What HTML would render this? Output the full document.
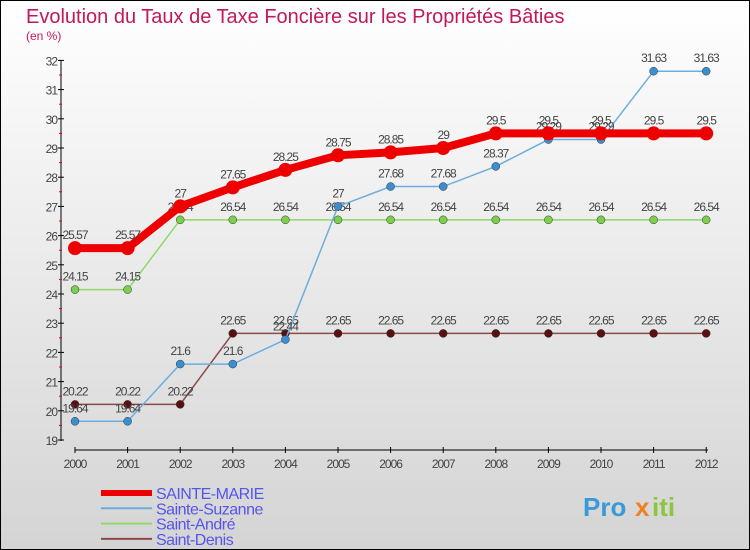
<!DOCTYPE html>
<html><head><meta charset="utf-8"><style>
body{margin:0}
#c{width:748px;height:548px;border:1px solid #000;background:linear-gradient(#ffffff,#d4d4d4);position:relative;overflow:hidden;font-family:"Liberation Sans",sans-serif}
</style></head><body>
<div id="c">
<svg id="s" width="748" height="548"></svg>
</div>
<script>
const years=["2000","2001","2002","2003","2004","2005","2006","2007","2008","2009","2010","2011","2012"];
const marie=[25.57,25.57,27,27.65,28.25,28.75,28.85,29,29.5,29.5,29.5,29.5,29.5];
const suzanne=[19.64,19.64,21.6,21.6,22.44,27,27.68,27.68,28.37,29.29,29.29,31.63,31.63];
const andre=[24.15,24.15,26.54,26.54,26.54,26.54,26.54,26.54,26.54,26.54,26.54,26.54,26.54];
const denis=[20.22,20.22,20.22,22.65,22.65,22.65,22.65,22.65,22.65,22.65,22.65,22.65,22.65];
const yTicks=[19,20,21,22,23,24,25,26,27,28,29,30,31,32];
const NS="http://www.w3.org/2000/svg";
const s=document.getElementById('s');
const X=i=>74+i*52.6;
const Y=v=>439-(v-19)*29.2;
function el(t,a,txt){const e=document.createElementNS(NS,t);for(const k in a)e.setAttribute(k,a[k]);if(txt!==undefined)e.textContent=txt;s.appendChild(e);return e;}
let e;
e=el('text',{x:25,y:22,'font-size':20,fill:'#c2185b'},'Evolution du Taux de Taxe Foncière sur les Propriétés Bâties');


e=el('text',{x:25,y:39,'font-size':12,fill:'#c2185b'},'(en %)');


e=el('line',{x1:60,y1:59,x2:60,y2:440,stroke:'#000'});


e=el('line',{x1:74,y1:449,x2:707,y2:449,stroke:'#000'});


yTicks.forEach(v=>{
 el('line',{x1:57,y1:Y(v),x2:63,y2:Y(v),stroke:'#000'});
 if(v<32)el('line',{x1:58,y1:Y(v+0.5),x2:61,y2:Y(v+0.5),stroke:'#e00'});
 e=el('text',{x:56,y:Y(v)+5,'font-size':12,fill:'#444','text-anchor':'end','letter-spacing':'-1'},String(v));
 
 
});
years.forEach((y,i)=>{
 el('line',{x1:X(i),y1:446,x2:X(i),y2:452,stroke:'#000'});
 e=el('text',{x:X(i),y:467,'font-size':12,fill:'#444','text-anchor':'middle','letter-spacing':'-1'},y);
 
 
});
function series(d,col,w,r,mcol,name){
 e=el('polyline',{points:d.map((v,i)=>X(i)+','+Y(v)).join(' '),fill:'none',stroke:col,'stroke-width':w});
 
 
 d.forEach((v,i)=>{
  e=el('circle',{cx:X(i),cy:Y(v),r:r,fill:mcol,stroke:w>3?'none':'#333','stroke-width':0.5});
  
  
  e=el('text',{x:X(i),y:Y(v)-9,'font-size':12,fill:'#444','text-anchor':'middle','letter-spacing':'-1'},String(v));
  
  
 });
}
series(denis,'#8b4a4a',1.5,4,'#5a1010','saint-denis');
series(andre,'#8fd86a',1.5,4,'#7ccf4a','saint-andre');
series(suzanne,'#6aaede',1.5,4,'#3b8fd0','sainte-suzanne');
series(marie,'#ee0000',8,7,'#ee0000','sainte-marie');
const leg=[["SAINTE-MARIE","#ee0000",6],["Sainte-Suzanne","#6aaede",2],["Saint-André","#8fd86a",2],["Saint-Denis","#8b4a4a",2]];
leg.forEach((l,i)=>{
 const y=492+i*15.3;
 e=el('line',{x1:100,y1:y,x2:151,y2:y,stroke:l[1],'stroke-width':l[2]});
 
 
 e=el('text',{x:155,y:y+6,'font-size':16,fill:'#5555ee','letter-spacing':'-0.5'},l[0]);
 
 
});
e=el('text',{x:582,y:515,'font-size':26,'font-weight':'bold',fill:'#3a9ad9'},'Pro');


el('text',{x:634,y:515,'font-size':26,'font-weight':'bold',fill:'#f08020'},'x');
el('text',{x:651,y:515,'font-size':26,'font-weight':'bold',fill:'#8cc63f'},'iti');
</script>
</body></html>
